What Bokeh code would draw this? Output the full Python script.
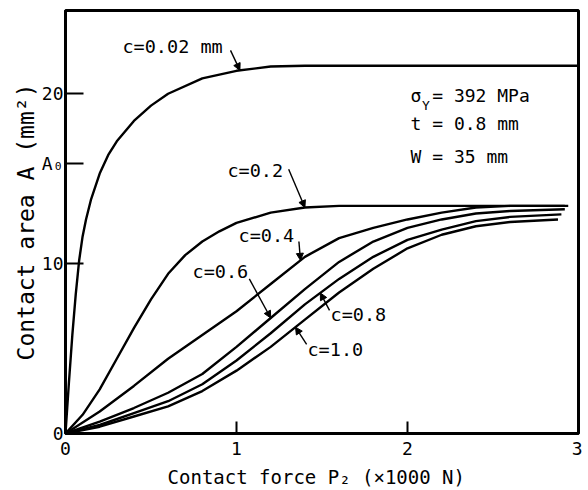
import numpy as np
from bokeh.plotting import figure
from bokeh.models import Range1d, FixedTicker, Arrow, NormalHead
from bokeh.core.properties import value
from bokeh.embed import file_html
from bokeh.resources import INLINE

# ---------------- data ----------------
x_ticks = [0, 1, 2, 3]
A0 = 15.9
y_ticks = [0, 10, A0, 20]
y_tick_labels = {10: "10", A0: "A₀", 20: "20"}

c002_x = [0, 0.01, 0.02, 0.04, 0.06, 0.08, 0.10, 0.12, 0.15, 0.20, 0.25, 0.30, 0.40, 0.50, 0.60, 0.80, 1.00, 1.20, 1.40, 3.00]
c002_y = [0, 1.5, 3.0, 5.8, 8.2, 10.2, 11.6, 12.6, 13.8, 15.3, 16.4, 17.2, 18.4, 19.3, 20.0, 20.9, 21.35, 21.6, 21.65, 21.65]

c02_x = [0, 0.1, 0.2, 0.3, 0.4, 0.5, 0.6, 0.7, 0.8, 0.9, 1.0, 1.2, 1.4, 1.6, 2.0, 2.5, 2.94]
c02_y = [0, 1.1, 2.6, 4.4, 6.2, 7.9, 9.4, 10.5, 11.3, 11.9, 12.4, 13.0, 13.3, 13.4, 13.4, 13.4, 13.4]

c04_x = [0, 0.2, 0.4, 0.6, 0.8, 1.0, 1.2, 1.4, 1.6, 1.8, 2.0, 2.2, 2.4, 2.6, 2.92]
c04_y = [0, 1.3, 2.8, 4.4, 5.8, 7.2, 8.8, 10.4, 11.5, 12.1, 12.6, 13.0, 13.3, 13.4, 13.4]

c06_x = [0, 0.2, 0.4, 0.6, 0.8, 1.0, 1.2, 1.4, 1.6, 1.8, 2.0, 2.2, 2.4, 2.6, 2.92]
c06_y = [0, 0.7, 1.5, 2.4, 3.5, 5.1, 6.8, 8.5, 10.1, 11.3, 12.1, 12.6, 12.95, 13.1, 13.2]

c08_x = [0, 0.2, 0.4, 0.6, 0.8, 1.0, 1.2, 1.4, 1.6, 1.8, 2.0, 2.2, 2.4, 2.6, 2.9]
c08_y = [0, 0.5, 1.2, 1.9, 2.9, 4.3, 5.9, 7.6, 9.1, 10.4, 11.4, 12.0, 12.5, 12.75, 12.9]

c10_x = [0, 0.2, 0.4, 0.6, 0.8, 1.0, 1.2, 1.4, 1.6, 1.8, 2.0, 2.2, 2.4, 2.6, 2.88]
c10_y = [0, 0.4, 1.0, 1.6, 2.5, 3.7, 5.1, 6.7, 8.3, 9.7, 10.9, 11.7, 12.2, 12.45, 12.6]

series = [(c002_x, c002_y), (c02_x, c02_y), (c04_x, c04_y),
          (c06_x, c06_y), (c08_x, c08_y), (c10_x, c10_y)]

curve_labels = ["c=0.02 mm", "c=0.2", "c=0.4", "c=0.6", "c=0.8", "c=1.0"]
# label anchor (left, middle) in data units
label_x = [0.333, 0.947, 1.012, 0.743, 1.550, 1.415]
label_y = [22.80, 15.50, 11.65, 9.55, 7.00, 4.94]
# arrow start and x of arrow tip on its curve
arrow_sx = [0.965, 1.305, 1.365, 1.075, 1.544, 1.410]
arrow_sy = [22.55, 15.55, 11.30, 9.10, 7.25, 5.25]
arrow_tip_x = [1.02, 1.40, 1.374, 1.20, 1.49, 1.345]

FONT = "DejaVu Sans Mono"

# ---------------- figure ----------------
p = figure(frame_width=513, frame_height=423,
           x_range=Range1d(0, 3.0), y_range=Range1d(0, 24.9),
           output_backend="svg", toolbar_location=None,
           min_border_left=65, min_border_right=4, min_border_top=10,
           min_border_bottom=40)
p.background_fill_color = "white"
p.border_fill_color = "white"
p.grid.visible = False
p.outline_line_color = "black"
p.outline_line_width = 3

for xs, ys in series:
    p.line(xs, ys, line_color="black", line_width=2.4)

# arrows
for i, (xs, ys) in enumerate(series):
    ty = float(np.interp(arrow_tip_x[i], xs, ys))
    p.add_layout(Arrow(end=NormalHead(size=7, fill_color="black", line_color="black", line_width=1),
                       x_start=arrow_sx[i], y_start=arrow_sy[i],
                       x_end=arrow_tip_x[i], y_end=ty,
                       line_color="black", line_width=1.4))

p.text(x=label_x, y=label_y, text=curve_labels,
       text_font=value(FONT), text_font_size="18.5px",
       text_align="left", text_baseline="middle", text_color="black")

# parameter block
p.text(x=[2.018, 2.018, 2.018], y=[19.9, 18.25, 16.3],
       text=["σ = 392 MPa", "t = 0.8 mm", "W = 35  mm"],
       text_font=value(FONT), text_font_size="18px",
       text_align="left", text_baseline="middle", text_color="black")
p.text(x=[2.085], y=[19.3], text=["Y"],
       text_font=value(FONT), text_font_size="13px",
       text_align="left", text_baseline="middle", text_color="black")

# axes
for ax in (p.xaxis[0], p.yaxis[0]):
    ax.axis_line_width = 3
    ax.axis_line_color = "black"
    ax.major_tick_out = 0
    ax.minor_tick_line_color = None
    ax.major_tick_line_width = 2
    ax.major_tick_line_color = "black"
    ax.major_label_text_font = FONT
    ax.major_label_text_color = "black"
    ax.axis_label_text_font = FONT
    ax.axis_label_text_font_style = "normal"
    ax.axis_label_text_color = "black"

p.xaxis.ticker = FixedTicker(ticks=x_ticks)
p.xaxis.major_tick_in = 12
p.xaxis.major_label_text_font_size = "18px"
p.xaxis.major_label_standoff = 8
p.xaxis.axis_label = "Contact force  P₂ (×1000 N)"
p.xaxis.axis_label_text_font_size = "19px"
p.xaxis.axis_label_standoff = 8

p.yaxis.ticker = FixedTicker(ticks=y_ticks)
p.yaxis.major_label_overrides = y_tick_labels
p.yaxis.major_tick_in = 18
p.yaxis.major_label_text_font_size = "18px"
p.yaxis.major_label_standoff = 2
p.yaxis.axis_label = "Contact area A (mm²)"
p.yaxis.axis_label_text_font_size = "23px"
p.yaxis.axis_label_standoff = 0

open("out.html", "w").write(file_html(p, INLINE))
